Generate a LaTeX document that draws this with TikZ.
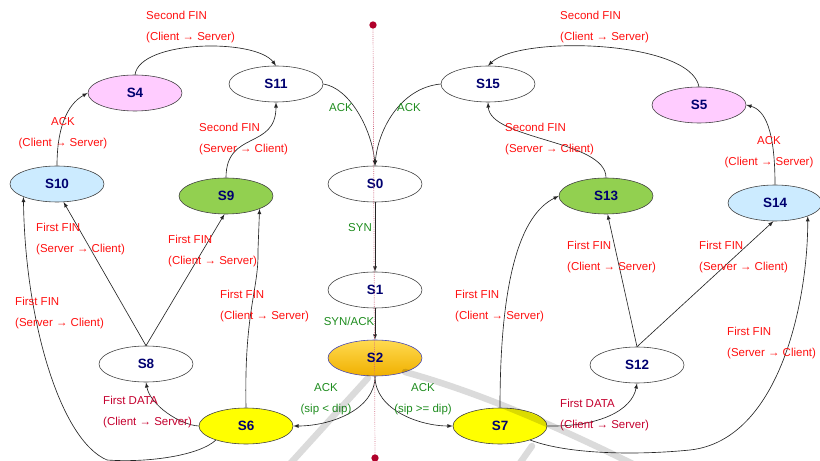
\documentclass[tikz,border=0pt]{standalone}
\usepackage{fontspec}
\setmainfont{Liberation Sans}
\usetikzlibrary{shapes.geometric}

\definecolor{navytxt}{HTML}{000070}
\definecolor{pinkst}{HTML}{FFCCFF}
\definecolor{bluest}{HTML}{CCEBFF}
\definecolor{greenst}{HTML}{92D050}
\definecolor{yellowst}{HTML}{FFFF00}
\definecolor{goldtop}{HTML}{FFDA50}
\definecolor{goldbot}{HTML}{F0B000}
\definecolor{goldrim}{HTML}{4646B4}
\definecolor{finred}{HTML}{FF1010}
\definecolor{ackgreen}{HTML}{1E8C1E}
\definecolor{datared}{HTML}{C4002E}
\definecolor{wirered}{HTML}{B0002A}

\tikzset{
  state/.style={ellipse, draw=black!75, line width=0.5pt, minimum width=2.82cm,
    minimum height=1.08cm, inner sep=0pt, text=navytxt,
    font=\fontsize{11.5}{12}\selectfont\bfseries},
  trans/.style={draw=black!85, line width=0.55pt, -latex},
  fin/.style={text=finred, align=left, anchor=west, inner sep=0pt,
    font=\fontsize{9.8}{17.9}\selectfont},
  finc/.style={fin, align=center, anchor=center},
  hs/.style={finc, text=ackgreen},
  dat/.style={fin, text=datared},
}

\begin{document}
\begin{tikzpicture}[x=0.03cm, y=-0.03cm]
  \useasboundingbox (0,0) rectangle (820,461);

  % states
  \node[state, fill=pinkst] (S4) at (135,93) {S4};
  \node[state, fill=white] (S11) at (276,84) {S11};
  \node[state, fill=bluest] (S10) at (57,184) {S10};
  \node[state, fill=greenst] (S9) at (226,196) {S9};
  \node[state, fill=white] (S0) at (375,184) {S0};
  \node[state, fill=white] (S15) at (488,84) {S15};
  \node[state, fill=pinkst] (S5) at (699,105) {S5};
  \node[state, fill=greenst] (S13) at (606,196) {S13};
  \node[state, fill=bluest] (S14) at (775,203) {S14};
  \node[state, fill=white] (S1) at (375,290) {S1};
  \node[state, draw=goldrim, top color=goldtop, bottom color=goldbot] (S2) at (375,358) {S2};
  \node[state, fill=white] (S8) at (146,364) {S8};
  \node[state, fill=yellowst] (S6) at (246,426) {S6};
  \node[state, fill=yellowst] (S7) at (500,426) {S7};
  \node[state, fill=white] (S12) at (637,365) {S12};

  % handshake
  \draw[trans] (S0) -- (S1);
  \draw[trans] (S1) -- (S2);
  \draw[trans] (S2.south) .. controls (375,410) and (330,426) .. (S6.east);
  \draw[trans] (S2.south) .. controls (375,410) and (420,426) .. (S7.west);
  \node[hs] (lsyn) at (360,228) {SYN};
  \node[hs] (lsynack) at (349,321) {SYN/ACK};
  \node[hs] (lack1) at (326,399.5) {ACK\\(sip < dip)};
  \node[hs] (lack2) at (423,399.5) {ACK\\(sip >= dip)};

  % left half
  \draw[trans] (S6.west) .. controls (180,425) and (150,405) .. (S8.south);
  \draw[trans] (S6.north) .. controls (244,310) and (259,290) .. (258,250) -- (S9.-21);
  \draw[trans] (S8.north) -- (S9.-95);
  \draw[trans] (S8.north) -- (S10.-70);
  \draw[trans] (S6.-155) .. controls (200,455) and (150,463) .. (107,460)
    .. controls (60,440) and (25,320) .. (S10.-159);
  \draw[trans] (S10.north) .. controls (57,130) and (66,105) .. (S4.west);
  \draw[trans] (S9.north) .. controls (226,130) and (276,150) .. (S11.south);
  \draw[trans] (S4.north) .. controls (140,40) and (255,38) .. (S11.north);
  \draw[trans] (S11.east) .. controls (350,88) and (372,130) .. (S0.north);
  \node[dat] (ldata1) at (103,412.5) {First DATA\\(Client → Server)};
  \node[fin] (lfin1) at (36,239) {First FIN\\(Server → Client)};
  \node[fin] (lfin2) at (168,251) {First FIN\\(Client → Server)};
  \node[fin] (lfin3) at (15,313) {First FIN\\(Server → Client)};
  \node[fin] (lfin4) at (220,306.5) {First FIN\\(Client → Server)};
  \node[finc] (lack3) at (63,133) {ACK\\(Client → Server)};
  \node[fin] (lsec1) at (199,139) {Second FIN\\(Server → Client)};
  \node[fin] (lsec2) at (146,27.5) {Second FIN\\(Client → Server)};
  \node[hs] (lack4) at (341,108) {ACK};

  % right half
  \draw[trans] (S7.east) .. controls (600,427) and (632,410) .. (S12.south);
  \draw[trans] (S7.north) .. controls (500,280) and (520,215) .. (S13.west);
  \draw[trans] (S12.north) -- (S13.-85);
  \draw[trans] (S12.north) -- (S14.-95);
  \draw[trans] (S7.-25) .. controls (570,455) and (640,455) .. (690,450)
    .. controls (780,440) and (808,300) .. (S14.-22);
  \draw[trans] (S14.north) .. controls (775,130) and (765,110) .. (S5.east);
  \draw[trans] (S13.north) .. controls (606,140) and (490,140) .. (S15.south);
  \draw[trans] (S5.north) .. controls (690,40) and (520,35) .. (S15.north);
  \draw[trans] (S15.west) .. controls (400,88) and (378,130) .. (S0.north);
  \node[dat] (ldata2) at (560,415) {First DATA\\(Client → Server)};
  \node[fin] (lfin5) at (455,306.5) {First FIN\\(Client → Server)};
  \node[fin] (lfin6) at (567,257) {First FIN\\(Client → Server)};
  \node[fin] (lfin7) at (699,257) {First FIN\\(Server → Client)};
  \node[fin] (lfin8) at (727,343.5) {First FIN\\(Server → Client)};
  \node[finc] (lack5) at (769,152) {ACK\\(Client → Server)};
  \node[fin] (lsec3) at (505,139) {Second FIN\\(Server → Client)};
  \node[fin] (lsec4) at (560,27.5) {Second FIN\\(Client → Server)};
  \node[hs] (lack6) at (409,108) {ACK};

  % dotted divider
  \coordinate (vtop) at (373,25);
  \coordinate (vbot) at (375,458);
  \draw[wirered!60, densely dotted, line width=0.6pt] (vtop) -- (vbot);
  \fill[wirered] (vtop) circle[radius=0.11cm];
  \fill[wirered] (vbot) circle[radius=0.11cm];

  % faint watermark
  \begin{scope}[black, opacity=0.14, line width=5.5pt, line cap=round]
    \draw (288,466) -- (368,378);
    \draw (405,372) .. controls (470,390) and (545,420) .. (645,470);
    \draw (532,446) -- (515,470);
  \end{scope}
\end{tikzpicture}
\end{document}
